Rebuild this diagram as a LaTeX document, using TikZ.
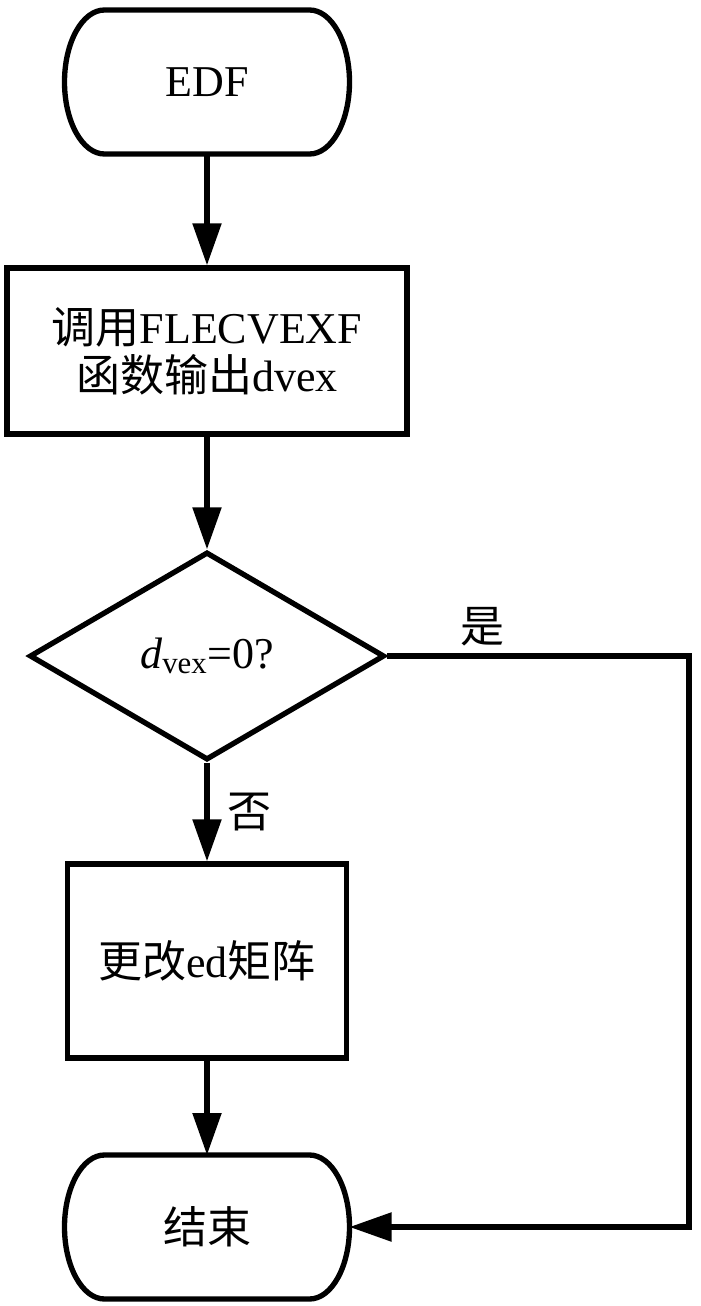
\documentclass[tikz,border=0pt]{standalone}
\usepackage{fontspec}
\setmainfont{Liberation Serif}
\newfontfamily\cjk{Noto Sans CJK SC}
\usetikzlibrary{arrows.meta,shapes.geometric,calc}

% outline of a terminal node: flat top and bottom, half-ellipse ends
\newcommand{\capsule}[1]{%
	\draw ($(#1.north west)+(40,0)$) -- ($(#1.north east)+(-40,0)$) arc[start angle=-90,end angle=90,x radius=40,y radius=72] -- ($(#1.south west)+(40,0)$) arc[start angle=90,end angle=270,x radius=40,y radius=72] -- cycle ;}

\begin{document}
\begin{tikzpicture}[x=0.75pt,y=0.75pt,yscale=-1,xscale=1,
	line width=4pt,
	every node/.style={font=\fontsize{33}{36}\selectfont},
	flow/.style={-{Triangle[length=31.5pt,width=21pt]}},
	term/.style={minimum width=213.75pt,minimum height=108pt,inner sep=0pt,outer sep=0pt},
	proc/.style={draw,rectangle,inner sep=0pt,align=center},
	decide/.style={draw,diamond,inner sep=0pt,minimum width=266.25pt,minimum height=156pt}]
	%set diagram left start at 0, and has height of 1306
	\useasboundingbox (0,0) rectangle (700,1306);

	%Shape: Terminal
	\node [term] (edf) at (207,82) {EDF};
	\capsule{edf}
	%Shape: Rectangle
	\node [proc,minimum width=300pt,minimum height=124.5pt] (call) at (207,351) {{\cjk 调用}FLECVEXF\\{\cjk 函数输出}dvex};
	%Shape: Diamond
	\node [decide] (dec) at (207,656) {\textit{d}\textsubscript{vex}=0?};
	%Shape: Rectangle
	\node [proc,minimum width=209pt,minimum height=145.5pt] (edit) at (207,961) {{\cjk 更改}ed{\cjk 矩阵}};
	%Shape: Terminal
	\node [term] (stop) at (207,1227) {{\cjk 结束}};
	\capsule{stop}

	% Text Node
	\node (yes) at (482,627) {{\cjk 是}};
	% Text Node
	\node (no) at (249,812) {{\cjk 否}};
	\coordinate (bend) at (689,656);

	%Straight Lines
	\draw [flow] (edf) -- (call);
	\draw [flow] (call) -- (dec);
	\draw [flow] (dec) -- (edit);
	\draw [flow] (edit) -- (stop);
	\draw [flow] (dec.east) -- (bend) |- (stop.east);

\end{tikzpicture}
\end{document}
